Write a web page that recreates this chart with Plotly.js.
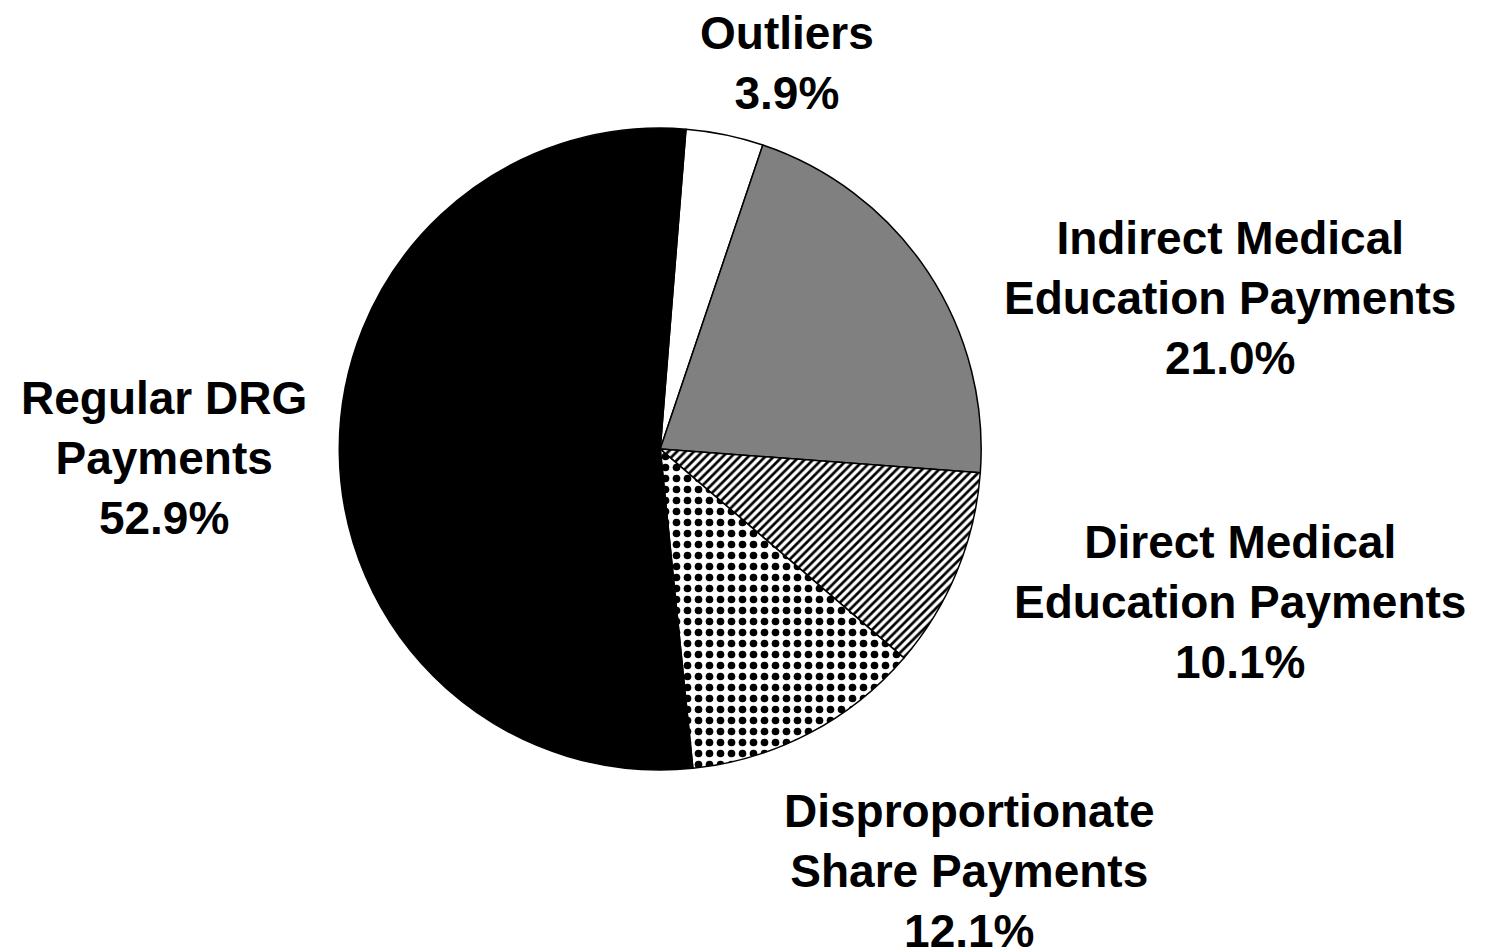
<!DOCTYPE html>
<html>
<head>
<meta charset="utf-8">
<script src="https://cdn.plot.ly/plotly-3.0.1.min.js"></script>
<style>html,body{margin:0;padding:0;background:#fff;}#chart{width:1487px;height:949px;}</style>
</head>
<body>
<div id="chart"></div>
<script>
// Data
var categories = ["Outliers", "Indirect Medical Education Payments", "Direct Medical Education Payments", "Disproportionate Share Payments", "Regular DRG Payments"];
var labelLines = [["Outliers"], ["Indirect Medical", "Education Payments"], ["Direct Medical", "Education Payments"], ["Disproportionate", "Share Payments"], ["Regular DRG", "Payments"]];
var shares = [3.9, 21.0, 10.1, 12.1, 52.9];

// Styles
var fillColors = ["#ffffff", "#808080", "#ffffff", "#ffffff", "#000000"];
var patternShapes = ["", "", "/", ".", ""];
var patternSizes = [8, 8, 6, 11, 8];
var patternSolidity = [0.3, 0.3, 0.45, 0.38, 0.3];
var labelPos = [[0.529, 0.934], [0.827, 0.686], [0.834, 0.366], [0.652, 0.082], [0.110, 0.517]];

var trace = {
  type: "pie",
  labels: categories,
  values: shares,
  sort: false,
  direction: "clockwise",
  rotation: 4.6,
  textinfo: "none",
  hoverinfo: "skip",
  showlegend: false,
  domain: {x: [0.228, 0.660], y: [0.1886, 0.865]},
  marker: {
    colors: fillColors,
    line: {color: "#000000", width: 1.5},
    pattern: {shape: patternShapes, size: patternSizes, solidity: patternSolidity, fgcolor: "#000000", fillmode: "replace"}
  }
};

var annotations = categories.map(function (c, i) {
  return {
    xref: "paper", yref: "paper",
    x: labelPos[i][0], y: labelPos[i][1],
    xanchor: "center", yanchor: "middle",
    showarrow: false, align: "center",
    text: "<b>" + labelLines[i].join("<br>") + "<br>" + shares[i].toFixed(1) + "%</b>",
    font: {family: "Liberation Sans, Arial, sans-serif", size: 46, color: "#000000"}
  };
});

var layout = {
  width: 1487, height: 949,
  margin: {l: 0, r: 0, t: 0, b: 0},
  paper_bgcolor: "#ffffff",
  plot_bgcolor: "#ffffff",
  annotations: annotations
};

Plotly.newPlot("chart", [trace], layout, {displayModeBar: false, staticPlot: true});
</script>
</body>
</html>
